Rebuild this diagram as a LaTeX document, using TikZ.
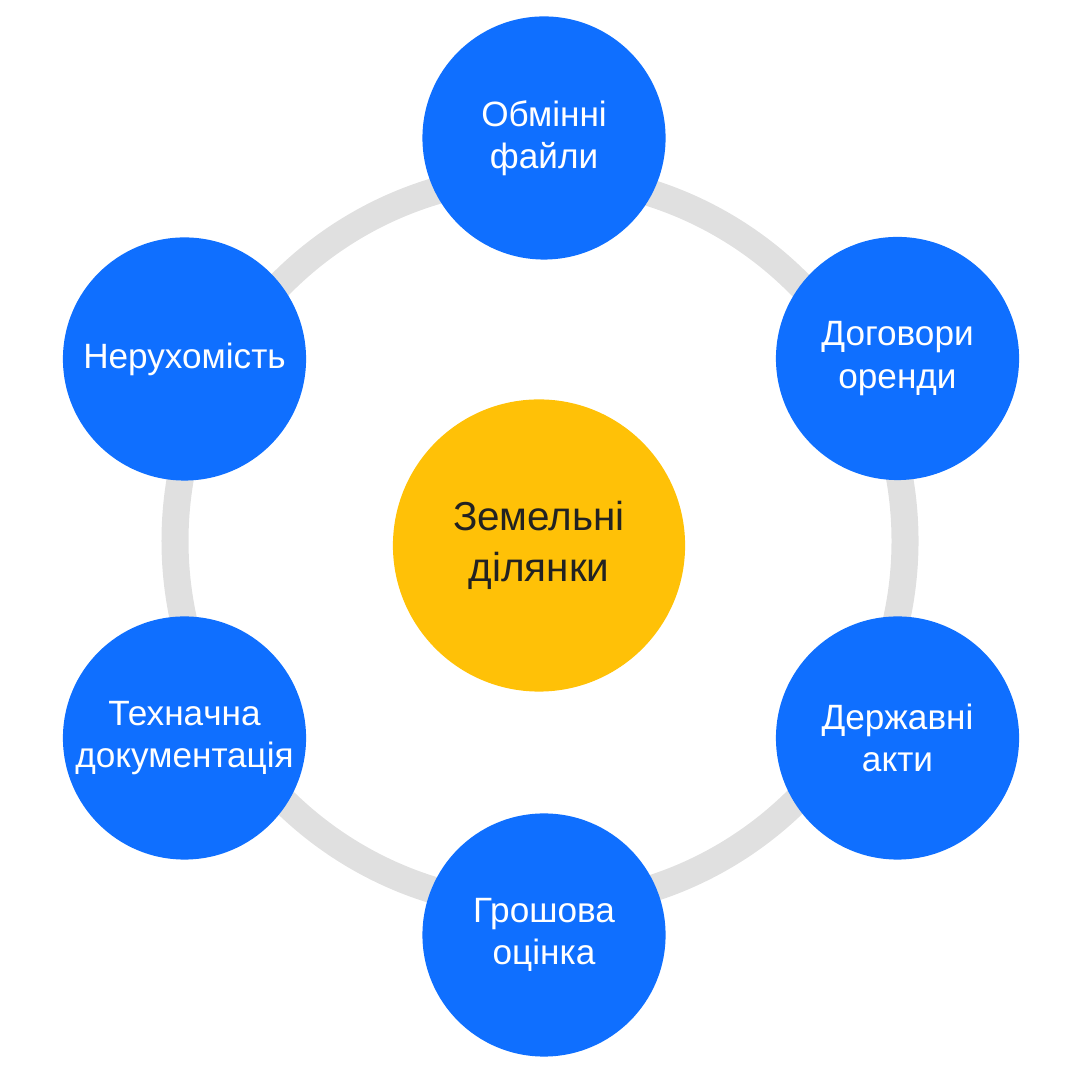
\documentclass[tikz,border=0pt]{standalone}
\usepackage{fontspec}
\setmainfont{Liberation Sans}
\definecolor{itemblue}{RGB}{15,111,255}
\definecolor{hubamber}{RGB}{255,193,7}
\definecolor{ringgray}{RGB}{224,224,224}
\definecolor{hubtext}{RGB}{34,34,34}
\tikzset{
	item/.style={circle, fill=itemblue, text=white, minimum size=2.43cm, inner sep=0pt, align=center, font=\fontsize{10}{12}\selectfont},
	hub/.style={circle, fill=hubamber, text=hubtext, minimum size=2.92cm, inner sep=0pt, align=center, font=\fontsize{11.5}{14.5}\selectfont}
}
\begin{document}
\begin{tikzpicture}[x=0.01cm, y=0.01cm]
				\useasboundingbox (0,0) rectangle (1080,1080);
				\coordinate (mid) at (540,539);
				\draw[ringgray, line width=0.27cm] (mid) circle (365);
				\node[hub] (land) at (539,534.5) {Земельні\\ділянки};
				\node[item] (files) at (544,942) {Обмінні\\файли};
				\node[item] (lease) at (897.5,721.5) {Договори\\оренди};
				\node[item] (acts) at (897.5,342) {Державні\\акти};
				\node[item] (value) at (544,145) {Грошова\\оцінка};
				\node[item] (tech) at (184.5,342) {Технaчна\\документація};
				\node[item] (estate) at (184.5,721) {Нерухомість};
\end{tikzpicture}
\end{document}
